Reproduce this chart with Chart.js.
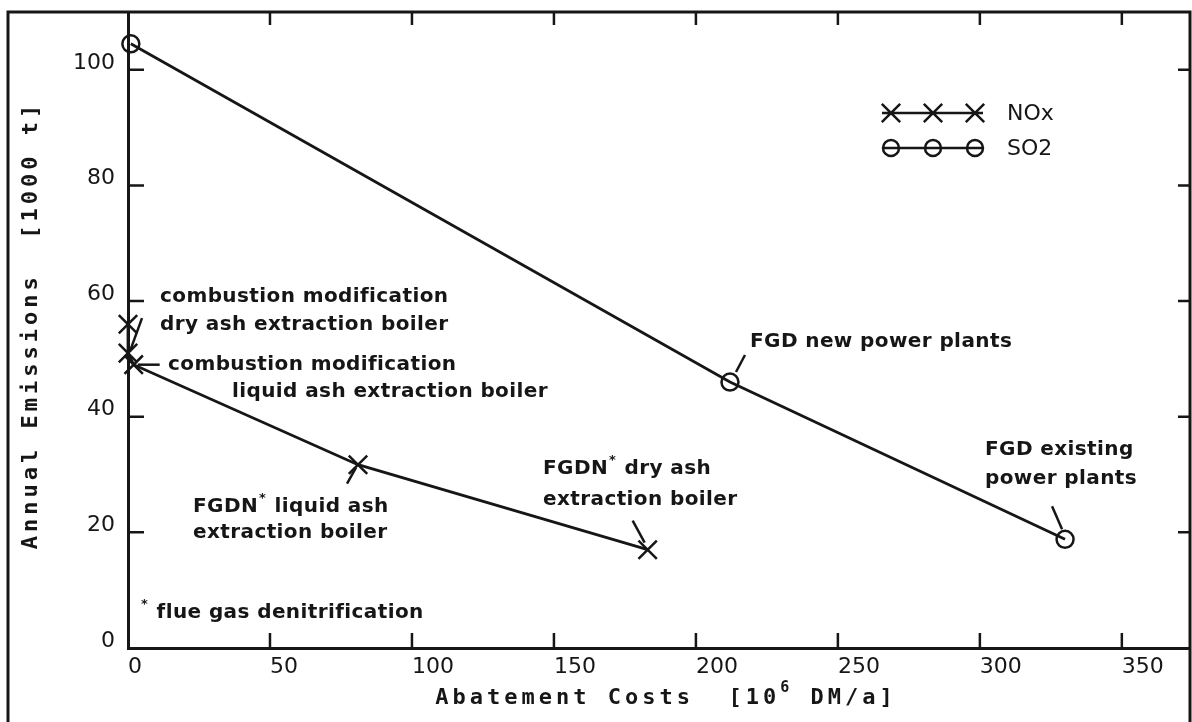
<!DOCTYPE html>
<html>
<head>
<meta charset="utf-8">
<script src="https://cdn.jsdelivr.net/npm/chart.js@4.4.1/dist/chart.umd.min.js"></script>
<style>
html, body { margin: 0; padding: 0; background: #fff; }
#wrap { position: relative; width: 1192px; height: 722px; }
</style>
</head>
<body>
<div id="wrap"><canvas id="chart"></canvas></div>
<script>
// abatement costs [10^6 DM/a] against annual emissions [1000 t]
const noxCosts = [0, 0, 2, 81, 183];
const noxEmissions = [56, 51, 49, 31.7, 17];
const so2Costs = [1, 212, 330];
const so2Emissions = [104.5, 46, 18.8];

const seriesNames = ['NOx', 'SO2'];
const xTicks = [0, 50, 100, 150, 200, 250, 300, 350];
const yTicks = [0, 20, 40, 60, 80, 100];

const ink = '#161616';
const noteFont = 'bold 20px "DejaVu Sans"';

// text blocks next to the points, pointer goes from text to the point
const notes = [
    { set: 0, idx: 1, lines: [[160, 297, 'combustion modification'], [160, 325, 'dry ash extraction boiler']], from: [14, -35], to: [2, -2] },
    { set: 0, idx: 2, lines: [[168, 365, 'combustion modification'], [232, 392, 'liquid ash extraction boiler']], from: [26, 0], to: [4, 0] },
    { set: 0, idx: 3, lines: [[193, 507, 'FGDN* liquid ash'], [193, 533, 'extraction boiler']], from: [-11, 19], to: [-2, 3] },
    { set: 0, idx: 4, lines: [[543, 469, 'FGDN* dry ash'], [543, 500, 'extraction boiler']], from: [-15, -29], to: [-3, -7] },
    { set: 1, idx: 1, lines: [[750, 342, 'FGD new power plants']], from: [15, -27], to: [6, -10] },
    { set: 1, idx: 2, lines: [[985, 450, 'FGD existing'], [985, 479, 'power plants']], from: [-13, -33], to: [-3, -10] },
    { lines: [[140, 613, '* flue gas denitrification']] }
];

function drawRich(ctx, x, y, text) {
    // a '*' is drawn as a small raised mark
    const parts = text.split('*');
    let cx = x;
    parts.forEach((p, i) => {
        if (i > 0) {
            ctx.font = 'bold 13px "DejaVu Sans"';
            ctx.fillText('*', cx + 1, y - 8);
            cx += ctx.measureText('*').width + 2;
        }
        ctx.font = noteFont;
        ctx.fillText(p, cx, y);
        cx += ctx.measureText(p).width;
    });
}

function drawCross(ctx, x, y, r) {
    const d = r * Math.SQRT1_2;
    ctx.moveTo(x - d, y - d); ctx.lineTo(x + d, y + d);
    ctx.moveTo(x - d, y + d); ctx.lineTo(x + d, y - d);
}

const frameAndTicks = {
    id: 'frameAndTicks',
    afterDraw(chart) {
        const { ctx, chartArea: a, scales: { x, y } } = chart;
        ctx.save();
        ctx.strokeStyle = ink;
        ctx.lineWidth = 3;
        ctx.beginPath();
        ctx.moveTo(8, 722); ctx.lineTo(8, a.top); ctx.lineTo(a.right, a.top); ctx.lineTo(a.right, 722);
        ctx.stroke();
        ctx.lineWidth = 2.5;
        ctx.beginPath();
        xTicks.forEach(v => {
            if (v === 0) return;
            const px = x.getPixelForValue(v);
            ctx.moveTo(px, a.bottom); ctx.lineTo(px, a.bottom - 15);
            ctx.moveTo(px, a.top); ctx.lineTo(px, a.top + 13);
        });
        yTicks.forEach(v => {
            if (v === 0) return;
            const py = y.getPixelForValue(v);
            ctx.moveTo(a.left, py); ctx.lineTo(a.left + 16, py);
            ctx.moveTo(a.right, py); ctx.lineTo(a.right - 12, py);
        });
        ctx.stroke();
        ctx.restore();
    }
};

const textLayer = {
    id: 'textLayer',
    afterDraw(chart) {
        const { ctx, scales: { x, y } } = chart;
        const sets = [[noxCosts, noxEmissions], [so2Costs, so2Emissions]];
        ctx.save();
        ctx.fillStyle = ink;
        ctx.strokeStyle = ink;
        ctx.textBaseline = 'middle';
        ctx.textAlign = 'left';

        // notes and pointers
        ctx.letterSpacing = '0.4px';
        notes.forEach(n => {
            n.lines.forEach(l => drawRich(ctx, l[0], l[1], l[2]));
            if (n.set === undefined) return;
            const px = x.getPixelForValue(sets[n.set][0][n.idx]);
            const py = y.getPixelForValue(sets[n.set][1][n.idx]);
            ctx.lineWidth = 2.5;
            ctx.beginPath();
            ctx.moveTo(px + n.from[0], py + n.from[1]);
            ctx.lineTo(px + n.to[0], py + n.to[1]);
            ctx.stroke();
        });
        ctx.letterSpacing = '0px';

        // legend
        ctx.font = '22px "DejaVu Sans"';
        ctx.lineWidth = 2.5;
        seriesNames.forEach((name, i) => {
            const ly = 113 + i * 35;
            ctx.beginPath();
            ctx.moveTo(882, ly); ctx.lineTo(983, ly);
            [891, 933, 975].forEach(mx => {
                if (i === 0) {
                    drawCross(ctx, mx, ly, 13);
                } else {
                    ctx.moveTo(mx + 8, ly);
                    ctx.arc(mx, ly, 8, 0, Math.PI * 2);
                }
            });
            ctx.stroke();
            ctx.fillText(name, 1007, ly + 1);
        });

        // axis titles
        ctx.font = 'bold 22px "DejaVu Sans Mono"';
        ctx.letterSpacing = '4px';
        const t1 = 'Abatement Costs  [10';
        const t2 = ' DM/a]';
        const w1 = ctx.measureText(t1).width;
        const w2 = ctx.measureText(t2).width;
        ctx.font = 'bold 15px "DejaVu Sans Mono"';
        const ws = ctx.measureText('6').width;
        let tx = 666 - (w1 + ws + w2) / 2;
        ctx.font = 'bold 22px "DejaVu Sans Mono"';
        ctx.fillText(t1, tx, 698);
        ctx.font = 'bold 15px "DejaVu Sans Mono"';
        ctx.fillText('6', tx + w1, 688);
        ctx.font = 'bold 22px "DejaVu Sans Mono"';
        ctx.fillText(t2, tx + w1 + ws, 698);

        ctx.translate(31, 325);
        ctx.rotate(-Math.PI / 2);
        ctx.textAlign = 'center';
        ctx.fillText('Annual Emissions  [1000 t]', 0, 0);
        ctx.restore();
    }
};

const tickFont = { family: 'DejaVu Sans', size: 22 };

new Chart(document.getElementById('chart'), {
    type: 'scatter',
    data: {
        datasets: [
            {
                label: seriesNames[0],
                data: noxCosts.map((c, i) => ({ x: c, y: noxEmissions[i] })),
                showLine: true,
                borderColor: ink,
                borderWidth: 2.8,
                pointStyle: 'crossRot',
                pointRadius: 13,
                pointBorderWidth: 2.5,
                pointBorderColor: ink,
                clip: false
            },
            {
                label: seriesNames[1],
                data: so2Costs.map((c, i) => ({ x: c, y: so2Emissions[i] })),
                showLine: true,
                borderColor: ink,
                borderWidth: 2.8,
                pointStyle: 'circle',
                pointRadius: 8.5,
                pointBorderWidth: 2.5,
                pointBorderColor: ink,
                pointBackgroundColor: 'rgba(0,0,0,0)',
                clip: false
            }
        ]
    },
    options: {
        responsive: true,
        maintainAspectRatio: false,
        animation: false,
        events: [],
        layout: { autoPadding: false, padding: { top: 12, right: 2, left: 0, bottom: 0 } },
        plugins: {
            legend: { display: false },
            tooltip: { enabled: false }
        },
        scales: {
            x: {
                type: 'linear',
                min: 0,
                max: 374,
                afterBuildTicks: s => { s.ticks = xTicks.map(v => ({ value: v })); },
                afterFit: s => { s.height = 74; s.paddingLeft = 0; s.paddingRight = 0; },
                grid: { display: false, drawTicks: false },
                border: { display: true, color: ink, width: 3 },
                ticks: { align: 'start', padding: 6, color: ink, font: tickFont, maxRotation: 0, autoSkip: false }
            },
            y: {
                min: 0,
                max: 110,
                afterBuildTicks: s => { s.ticks = yTicks.map(v => ({ value: v })); },
                afterFit: s => { s.width = 128; s.paddingTop = 0; s.paddingBottom = 0; },
                grid: { display: false, drawTicks: false },
                border: { display: true, color: ink, width: 3 },
                ticks: { padding: 13, labelOffset: -7, color: ink, font: tickFont, autoSkip: false }
            }
        }
    },
    plugins: [frameAndTicks, textLayer]
});
</script>
</body>
</html>
